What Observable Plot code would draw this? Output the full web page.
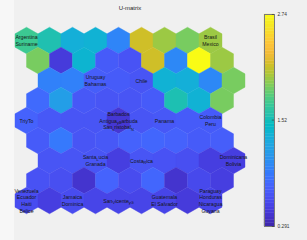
<!DOCTYPE html>
<html><head><meta charset="utf-8">
<script src="https://cdn.jsdelivr.net/npm/d3@7"></script>
<script src="https://cdn.jsdelivr.net/npm/@observablehq/plot@0.6"></script>
<style>
html,body{margin:0;padding:0;background:#f0f0f0;}
#wrap{position:relative;width:307px;height:240px;overflow:hidden;background:linear-gradient(to right,#f7f7f7 0,#f7f7f7 14px,#f0f0f0 14px);}
#wrap svg{position:absolute;top:0;}
</style></head><body><div id="wrap"></div>
<script>
// U-matrix values (9 x 9 hexagonal cells)
const umRow1 = [1.71, 1.56, 1.32, 1.35, 0.98, 2.15, 2.00, 1.90, 2.00];
const umRow2 = [1.90, 0.48, 1.38, 0.70, 0.65, 2.15, 1.00, 2.74, 2.00];
const umRow3 = [0.95, 0.95, 0.72, 0.70, 0.66, 1.35, 1.32, 1.00, 1.90];
const umRow4 = [0.80, 1.17, 0.68, 0.66, 0.66, 0.70, 1.55, 1.35, 1.90];
const umRow5 = [0.75, 0.68, 0.66, 0.66, 0.45, 0.66, 0.68, 0.70, 0.70];
const umRow6 = [0.70, 0.90, 0.66, 0.68, 0.75, 0.78, 0.75, 0.70, 0.72];
const umRow7 = [0.66, 0.66, 0.66, 0.50, 0.66, 0.64, 0.62, 0.50, 0.50];
const umRow8 = [0.64, 0.62, 0.42, 0.76, 0.60, 0.78, 0.42, 0.58, 0.50];
const umRow9 = [0.60, 0.50, 0.60, 0.55, 0.55, 0.55, 0.55, 0.48, 0.55];
const rowShift = [0, 0.5, 1, 0.5, 0, 0.5, 1, 0.5, 0];

// unit labels: row, column (within the row), text
const labelRow = [0, 0, 2, 2, 4, 4, 4, 4, 6, 6, 6, 8, 8, 8, 8, 8];
const labelCol = [0, 8, 2, 4, 0, 4, 6, 8, 2, 4, 8, 0, 2, 4, 6, 8];
const labelText = [
  "Argentina\nSuriname", "Brasil\nMexico", "Uruguay\nBahamas", "Chile",
  "TriyTo", "Barbados\nAntigua_y_Barbuda\nSan_cristobal_N", "Panama", "Colombia\nPeru",
  "Santa_Lucia\nGranada", "Costa_Rica", "Dominicana\nBolivia",
  "Venezuela\nEcuador\nHaiti\nBelice", "Jamaica\nDominica", "San_Vicente_y_G",
  "Guatemala\nEl Salvador", "Paraguay\nHonduras\nNicaragua\nGuyana"
];
const titleText = "U-matrix";
const cbMin = 0.291, cbMax = 2.74;
const cbTicks = [0.291, 1.52, 2.74];
const cbTickLabels = ["0.291", "1.52", "2.74"];

// parula colormap stops (evenly spaced)
const parula = ["#3e26a8","#4432cb","#4741e5","#4852f4","#4563fd","#3875fe","#2e87f7","#2796eb",
  "#20a5e3","#12b1d6","#02bac3","#24c1ae","#37c897","#57cc7a","#81cc59","#abc739",
  "#d1bf27","#f0ba36","#fec338","#fad62d","#f5e924","#f9fb15"];

const umatrix = [umRow1, umRow2, umRow3, umRow4, umRow5, umRow6, umRow7, umRow8, umRow9];
const cells = umatrix.flatMap((r, i) => r.map((v, j) => ({x: j + rowShift[i], y: i, v})));
const labels = labelText.map((t, k) => ({x: labelCol[k] + rowShift[labelRow[k]], y: labelRow[k], t}));

const W = 307, H = 240, mL = 26, mR = 74, mT = 40, mB = 40;
const nCols = 9;
const R = (W - mL - mR) / nCols / 2;
const font = "'Liberation Sans', Arial, sans-serif";
const colorOpt = {type: "linear", domain: [cbMin, cbMax], interpolate: d3.piecewise(d3.interpolateRgb, parula)};

const main = Plot.plot({
  width: W, height: H, marginLeft: mL, marginRight: mR, marginTop: mT, marginBottom: mB,
  style: {background: "none", fontFamily: font},
  x: {domain: [0, nCols], axis: null},
  y: {domain: [0, 8], reverse: true, axis: null},
  color: colorOpt,
  marks: [
    Plot.dot(cells, {x: "x", y: "y", fill: "v", stroke: "v", strokeWidth: 0.4, symbol: "hexagon", r: R}),
    Plot.text(labels, {x: "x", y: "y", text: "t", fontSize: 5.2, lineHeight: 1.3, fill: "#151515", className: "lbl"}),
    Plot.text([titleText], {x: 4.5, y: -1.6, text: d => d, fontSize: 6, fill: "#262626"})
  ]
});

const nBins = 64;
const bins = d3.range(nBins).map(i => ({y1: cbMin + i * (cbMax - cbMin) / nBins, y2: cbMin + (i + 1) * (cbMax - cbMin) / nBins}));
const cb = Plot.plot({
  width: 52, height: H, marginLeft: 9, marginRight: 33, marginTop: 14, marginBottom: 14,
  style: {background: "none", fontFamily: font},
  x: {domain: [0, 1], axis: null},
  y: {domain: [cbMin, cbMax], axis: null},
  color: colorOpt,
  marks: [
    Plot.rect(bins, {x1: 0, x2: 1, y1: "y1", y2: "y2", fill: d => (d.y1 + d.y2) / 2, stroke: d => (d.y1 + d.y2) / 2, strokeWidth: 0.3}),
    Plot.frame({stroke: "#7a7a7a", strokeWidth: 1}),
    Plot.ruleY(cbTicks, {x1: 0.78, x2: 1, stroke: "#333", strokeWidth: 0.6}),
    Plot.axisY(cbTicks, {anchor: "right", tickSize: 0, tickPadding: 3, fontSize: 4.8, fill: "#333",
      tickFormat: d => cbTickLabels[cbTicks.indexOf(d)]})
  ]
});

const wrap = document.getElementById("wrap");
main.style.left = "0px";
cb.style.left = "255px";
wrap.appendChild(main);
wrap.appendChild(cb);

// TeX-like subscripts: "_X" lowers the next character
const ns = "http://www.w3.org/2000/svg";
main.querySelectorAll("g.lbl text").forEach(el => {
  const spans = el.querySelectorAll("tspan");
  const targets = spans.length ? [...spans] : [el];
  for (const t of targets) {
    const s = t.textContent;
    if (!s.includes("_")) continue;
    t.textContent = "";
    let off = 0;
    const add = (str, sub) => {
      if (!str) return;
      const ts = document.createElementNS(ns, "tspan");
      const target = sub ? 1.4 : 0;
      if (target !== off) ts.setAttribute("dy", target - off);
      off = target;
      if (sub) ts.setAttribute("font-size", "3.9");
      ts.textContent = str;
      t.appendChild(ts);
    };
    const parts = s.split("_");
    add(parts[0], false);
    for (let k = 1; k < parts.length; k++) { add(parts[k].slice(0, 1), true); add(parts[k].slice(1), false); }
  }
});
</script></body></html>
